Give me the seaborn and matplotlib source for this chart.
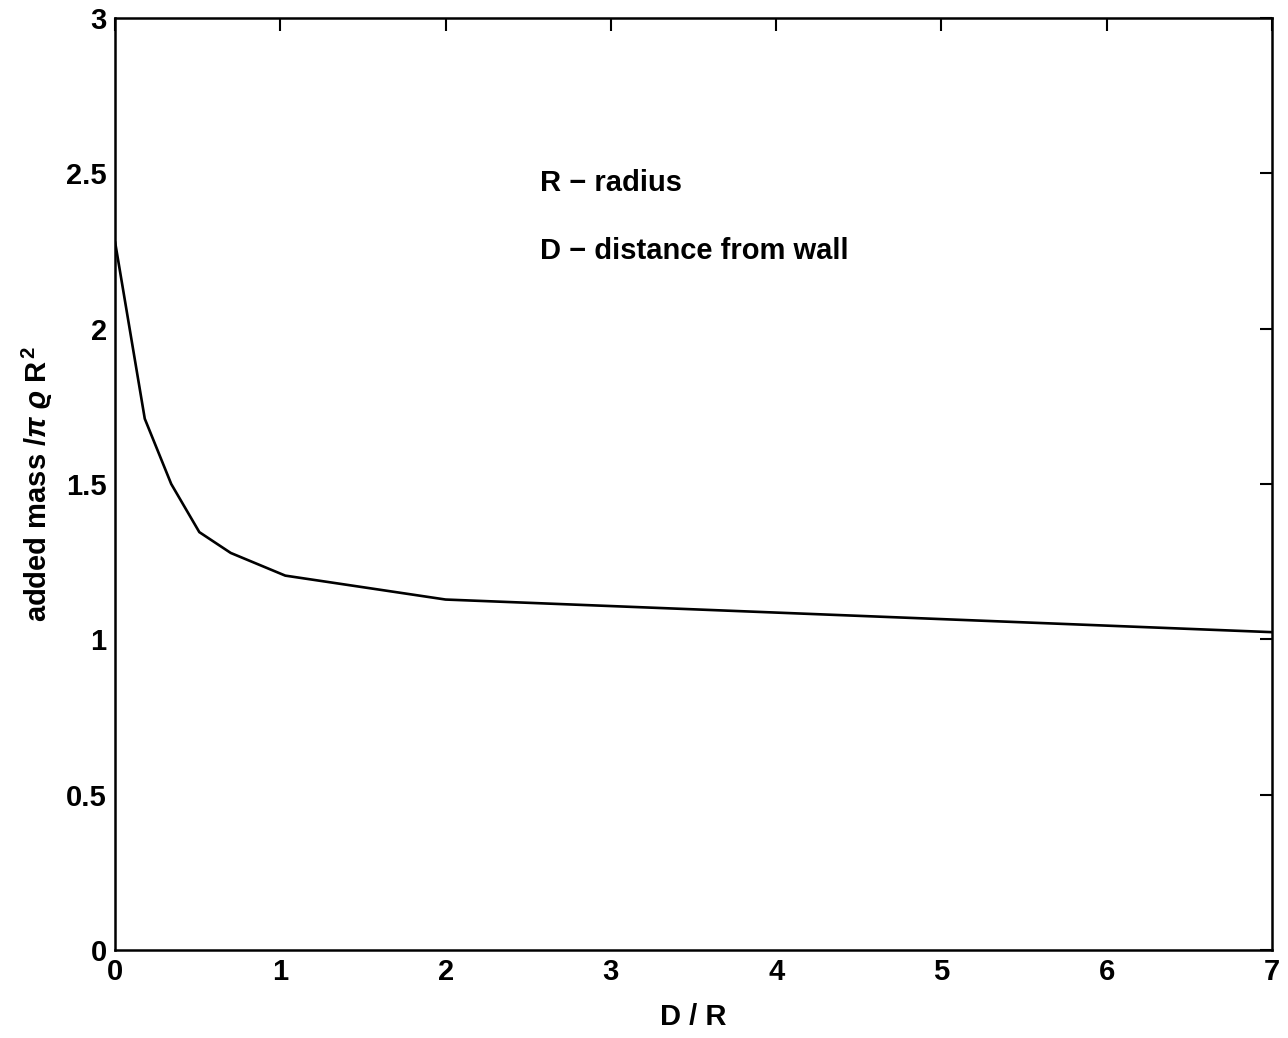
import numpy as np
import pandas as pd
import matplotlib
matplotlib.use("Agg")
import matplotlib.pyplot as plt
import seaborn as sns

# values
dist_ratio = [0.0, 0.18, 0.34, 0.51, 0.70, 1.03, 2.0, 7.0]
added_mass = [2.28, 1.71, 1.50, 1.345, 1.278, 1.205, 1.128, 1.023]
x_ticks = [0, 1, 2, 3, 4, 5, 6, 7]
y_ticks = [0, 0.5, 1, 1.5, 2, 2.5, 3]
y_tick_labels = ["0", "0.5", "1", "1.5", "2", "2.5", "3"]

df = pd.DataFrame({"D/R": dist_ratio, "added mass": added_mass})

sns.set_style("white")
plt.rcParams['font.family'] = ['Liberation Sans', 'DejaVu Sans']
plt.rcParams['font.weight'] = 'bold'
plt.rcParams['axes.labelweight'] = 'bold'
plt.rcParams['text.color'] = 'black'
plt.rcParams['axes.labelcolor'] = 'black'
plt.rcParams['mathtext.fontset'] = 'custom'
plt.rcParams['mathtext.it'] = 'Liberation Sans:italic:bold'
plt.rcParams['mathtext.rm'] = 'Liberation Sans:bold'

fig = plt.figure(figsize=(12.88, 10.38), dpi=100)
ax = fig.add_axes([0.0893, 0.0848, 0.8983, 0.8979])

sns.lineplot(x="D/R", y="added mass", data=df, color="black", linewidth=1.9, ax=ax)

ax.set_xlim(0, 7)
ax.set_ylim(0, 3)
ax.set_xticks(x_ticks)
ax.set_yticks(y_ticks)
ax.set_yticklabels(y_tick_labels)
ax.tick_params(direction="in", length=9, width=1.5, top=True, right=True,
               labelsize=21, pad=6, colors="black")
for s in ax.spines.values():
    s.set_color("black")
    s.set_linewidth(1.8)

ax.set_xlabel("D / R", fontsize=21, labelpad=12)
ax.set_ylabel(r"added mass /$\pi$ $\varrho$ R$^{\,2}$", fontsize=21, labelpad=8)

ax.text(2.57, 2.47, "R \u2212 radius", fontsize=21, va="center", ha="left")
ax.text(2.57, 2.25, "D \u2212 distance from wall", fontsize=21, va="center", ha="left")

fig.savefig("out.png", dpi=100, facecolor="white")
